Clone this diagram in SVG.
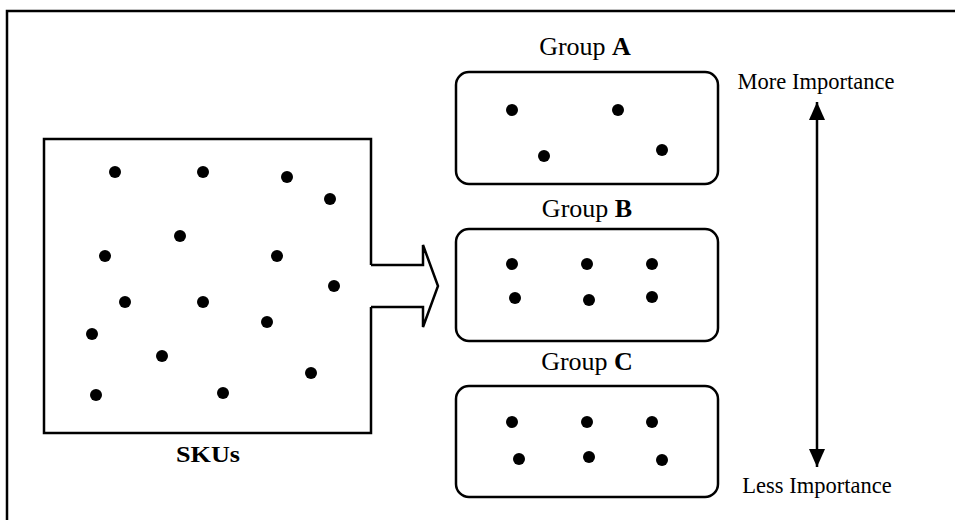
<svg xmlns="http://www.w3.org/2000/svg" width="955" height="520" viewBox="0 0 955 520">
  <style>
    .frame { fill: none; stroke: #000; stroke-width: 2.5; }
    .box { fill: #fff; stroke: #000; stroke-width: 2.5; }
    .dot { fill: #000; }
    .lbl { font-family: "Liberation Serif", "Times New Roman", serif; fill: #000; text-anchor: middle; }
    .glbl { font-size: 26px; }
    .side { font-size: 22.5px; }
    .b { font-weight: bold; }
  </style>
  <defs>
    <marker id="head" viewBox="0 0 10 10" refX="10" refY="5" markerWidth="18" markerHeight="16" markerUnits="userSpaceOnUse" orient="auto-start-reverse" preserveAspectRatio="none">
      <path d="M0,0 L10,5 L0,10 z" fill="#000"/>
    </marker>
  </defs>
  <rect width="955" height="520" fill="#fff"/>

  <!-- outer frame: left and top edges -->
  <path class="frame" d="M7,520 V11 H955"/>

  <!-- SKU pool with open outlet on the right -->
  <g id="skus">
    <path class="box" d="M371,265 V139 H44 V433 H371 V307"/>
    <circle class="dot" cx="115" cy="172" r="6"/>
    <circle class="dot" cx="203" cy="172" r="6"/>
    <circle class="dot" cx="287" cy="177" r="6"/>
    <circle class="dot" cx="330" cy="199" r="6"/>
    <circle class="dot" cx="180" cy="236" r="6"/>
    <circle class="dot" cx="105" cy="256" r="6"/>
    <circle class="dot" cx="277" cy="256" r="6"/>
    <circle class="dot" cx="334" cy="286" r="6"/>
    <circle class="dot" cx="125" cy="302" r="6"/>
    <circle class="dot" cx="203" cy="302" r="6"/>
    <circle class="dot" cx="267" cy="322" r="6"/>
    <circle class="dot" cx="92" cy="334" r="6"/>
    <circle class="dot" cx="162" cy="356" r="6"/>
    <circle class="dot" cx="311" cy="373" r="6"/>
    <circle class="dot" cx="96" cy="395" r="6"/>
    <circle class="dot" cx="223" cy="393" r="6"/>
    <text class="lbl b" x="208" y="462" font-size="24" textLength="64" lengthAdjust="spacingAndGlyphs">SKUs</text>
  </g>

  <g id="connectors">
    <!-- hollow block arrow from the pool to the groups -->
    <path class="frame" d="M371,265 H423 V245 L438,286 L423,327 V307 H371"/>
    <!-- importance scale -->
    <line x1="817" y1="102" x2="817" y2="467" stroke="#000" stroke-width="2.5" marker-start="url(#head)" marker-end="url(#head)"/>
  </g>

  <g id="groupA">
    <text class="lbl glbl" x="585" y="55">Group <tspan class="b">A</tspan></text>
    <rect class="box" x="456" y="72" width="262" height="112" rx="13"/>
    <circle class="dot" cx="512" cy="110" r="6"/>
    <circle class="dot" cx="618" cy="110" r="6"/>
    <circle class="dot" cx="544" cy="156" r="6"/>
    <circle class="dot" cx="662" cy="150" r="6"/>
  </g>

  <g id="groupB">
    <text class="lbl glbl" x="587" y="217">Group <tspan class="b">B</tspan></text>
    <rect class="box" x="456" y="229" width="262" height="112" rx="13"/>
    <circle class="dot" cx="512" cy="264" r="6"/>
    <circle class="dot" cx="587" cy="264" r="6"/>
    <circle class="dot" cx="652" cy="264" r="6"/>
    <circle class="dot" cx="515" cy="298" r="6"/>
    <circle class="dot" cx="589" cy="300" r="6"/>
    <circle class="dot" cx="652" cy="297" r="6"/>
  </g>

  <g id="groupC">
    <text class="lbl glbl" x="587" y="370">Group <tspan class="b">C</tspan></text>
    <rect class="box" x="456" y="386" width="262" height="111" rx="13"/>
    <circle class="dot" cx="512" cy="422" r="6"/>
    <circle class="dot" cx="587" cy="422" r="6"/>
    <circle class="dot" cx="652" cy="422" r="6"/>
    <circle class="dot" cx="519" cy="459" r="6"/>
    <circle class="dot" cx="589" cy="457" r="6"/>
    <circle class="dot" cx="662" cy="460" r="6"/>
  </g>

  <g id="more">
    <text class="lbl side" x="816" y="89">More Importance</text>
  </g>
  <g id="less">
    <text class="lbl side" x="817" y="493">Less Importance</text>
  </g>
</svg>
